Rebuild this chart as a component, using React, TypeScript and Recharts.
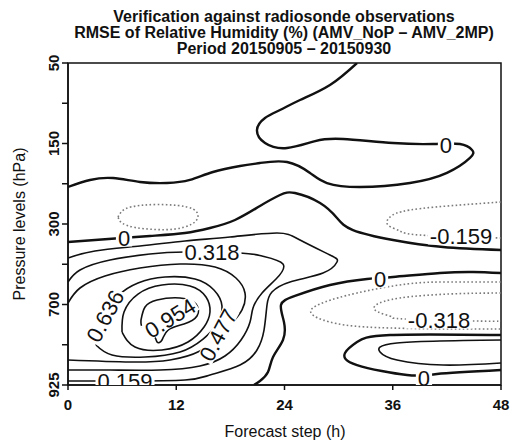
import { ComposedChart, Line, Scatter, XAxis, YAxis, ReferenceArea } from "recharts";

type Pt = [number, number];

const FONT = '"Liberation Sans", Arial, Helvetica, sans-serif';

const forecastSteps = [0, 12, 24, 36, 48];
const pressureLevels = ["50", "150", "300", "700", "925"];
const levelTicks = [0, 0.5, 1, 1.5, 2, 2.5, 3, 3.5, 4];

// each contour is a list of [forecast hour, pressure level index] pairs
const zeroUpper: Pt[] = [
  [0, 1.54], [2.44, 1.453], [4.99, 1.429], [7.98, 1.478], [10.97, 1.491], [13.52, 1.453],
  [16.07, 1.354], [19.07, 1.28], [21.28, 1.242], [24.28, 1.23], [26.83, 1.366], [28.71, 1.491],
  [32.37, 1.54], [37.91, 1.491], [42.01, 1.366], [44.56, 1.18], [44.79, 1.081], [43.45, 1.006],
  [40.46, 1.006], [36.03, 0.994], [30.49, 0.944], [27.4, 0.97], [24.28, 1.056], [21.84, 0.994],
  [20.95, 0.832], [21.84, 0.683], [23.5, 0.584], [25.72, 0.46], [29.04, 0.273], [32.04, 0],
];
const zeroMiddle: Pt[] = [
  [0, 2.224], [2.99, 2.199], [9.09, 2.149], [12.97, 2.112], [15.74, 2.05], [18.51, 1.95],
  [21.28, 1.776], [23.5, 1.64], [25.16, 1.615], [27.94, 1.739], [29.82, 1.925], [31.59, 2.075],
  [36.03, 2.199], [41.57, 2.286], [48, 2.323],
];
const zeroLower: Pt[] = [
  [48, 2.609], [44.9, 2.596], [41.24, 2.609], [36.03, 2.658], [33.15, 2.683], [29.04, 2.758],
  [25.16, 2.894], [23.61, 3.006], [23.94, 3.217], [23.83, 3.441], [22.73, 3.652], [22.17, 3.839],
  [21.28, 3.95], [20.62, 4],
];
const zeroBottom: Pt[] = [
  [48, 3.379], [35.7, 3.379], [32.04, 3.466], [30.71, 3.602], [32.04, 3.752], [37.58, 3.876],
  [40.9, 3.863], [48, 3.814],
];
const pos159Left: Pt[] = [
  [0, 2.422], [2.99, 2.335], [7.98, 2.273], [12.97, 2.211], [17.96, 2.161], [23.17, 2.112],
  [25.72, 2.199], [29.04, 2.385], [29.82, 2.472], [28.27, 2.609], [24.61, 2.72], [22.61, 2.845],
  [22.06, 3.006], [21.73, 3.317], [20.95, 3.565], [19.07, 3.752], [15.74, 3.876], [12.97, 3.938],
  [6.32, 3.95], [0, 3.95],
];
const pos159Right: Pt[] = [
  [48, 3.441], [36.47, 3.478], [34.59, 3.59], [36.47, 3.689], [41.57, 3.752], [48, 3.727],
];
const pos318: Pt[] = [
  [0, 2.72], [1.33, 2.571], [4.66, 2.447], [9.09, 2.373], [12.97, 2.348], [19.07, 2.36],
  [21.51, 2.398], [23.83, 2.497], [23.06, 2.683], [21.51, 2.857], [20.51, 3.043], [20.18, 3.217],
  [19.18, 3.441], [17.4, 3.64], [14.63, 3.764], [10.2, 3.814], [4.66, 3.814], [0, 3.814],
];
const pos477: Pt[] = [
  [0, 2.981], [1.33, 2.795], [4.1, 2.646], [7.98, 2.547], [12.42, 2.497], [16.3, 2.534],
  [18.62, 2.671], [19.62, 2.857], [19.29, 3.068], [18.07, 3.242], [16.63, 3.404], [14.63, 3.578],
  [11.31, 3.689], [6.87, 3.714], [0, 3.689],
];
const pos636: Pt[] = [
  [3.1, 3.503], [3.55, 3.317], [4.21, 3.118], [5.54, 2.894], [7.76, 2.733], [10.75, 2.658],
  [14.08, 2.683], [16.18, 2.82], [17.07, 3.019], [16.52, 3.242], [14.97, 3.429], [12.42, 3.59],
  [8.54, 3.652], [4.88, 3.627], [3.1, 3.503],
];
const pos795: Pt[] = [
  [5.99, 3.342], [6.21, 3.093], [7.76, 2.87], [10.42, 2.758], [13.52, 2.77], [15.3, 2.907],
  [15.74, 3.093], [15.08, 3.28], [13.3, 3.466], [10.42, 3.565], [7.43, 3.528], [5.99, 3.342],
];
const pos954: Pt[] = [
  [8.09, 3.193], [8.54, 3.031], [9.87, 2.944], [12.42, 2.919], [14.19, 2.994], [14.3, 3.143],
  [12.86, 3.242], [11.09, 3.317], [10.42, 3.441], [9.87, 3.466], [9.42, 3.366], [8.31, 3.292],
  [8.09, 3.193],
];
const neg159Left: Pt[] = [
  [5.54, 1.913], [6.32, 1.814], [7.98, 1.77], [9.98, 1.758], [12.19, 1.77], [13.86, 1.814],
  [14.41, 1.901], [13.75, 2.0], [11.86, 2.062], [9.64, 2.068], [7.43, 2.043], [5.99, 1.988],
  [5.54, 1.913],
];
const neg159Top: Pt[] = [
  [48, 1.727], [43.45, 1.764], [37.91, 1.826], [35.7, 1.913], [35.47, 2.012], [36.8, 2.087],
  [39.02, 2.137], [48, 2.174],
];
const neg159Mid: Pt[] = [
  [48, 2.72], [42.35, 2.72], [37.58, 2.745], [32.04, 2.857], [28.49, 2.969], [26.94, 3.068],
  [27.71, 3.168], [30.71, 3.255], [35.7, 3.292], [42.35, 3.304], [48, 3.304],
];
const neg318Mid: Pt[] = [
  [48, 2.857], [42.35, 2.869], [36.8, 2.919], [34.14, 3.006], [34.37, 3.093], [35.92, 3.155],
  [37.36, 3.18], [45.12, 3.205], [48, 3.205],
];

const contours = [
  { id: "zeroUpper", level: 0, points: zeroUpper },
  { id: "zeroMiddle", level: 0, points: zeroMiddle },
  { id: "zeroLower", level: 0, points: zeroLower },
  { id: "zeroBottom", level: 0, points: zeroBottom },
  { id: "pos159Left", level: 0.159, points: pos159Left },
  { id: "pos159Right", level: 0.159, points: pos159Right },
  { id: "pos318", level: 0.318, points: pos318 },
  { id: "pos477", level: 0.477, points: pos477 },
  { id: "pos636", level: 0.636, points: pos636 },
  { id: "pos795", level: 0.795, points: pos795 },
  { id: "pos954", level: 0.954, points: pos954 },
  { id: "neg159Left", level: -0.159, points: neg159Left },
  { id: "neg159Top", level: -0.159, points: neg159Top },
  { id: "neg159Mid", level: -0.159, points: neg159Mid },
  { id: "neg318Mid", level: -0.318, points: neg318Mid },
];

// inline contour labels: anchor in [hour, level index], text rotation in degrees
const contourLabels = [
  { x: 41.9, y: 1.019, level: 0, angle: 0 },
  { x: 6.21, y: 2.174, level: 0, angle: 0 },
  { x: 34.59, y: 2.683, level: 0, angle: 0 },
  { x: 39.46, y: 3.913, level: 0, angle: 0 },
  { x: 6.32, y: 3.95, level: 0.159, angle: 0 },
  { x: 15.96, y: 2.354, level: 0.318, angle: 0 },
  { x: 16.63, y: 3.379, level: 0.477, angle: -62 },
  { x: 4.1, y: 3.143, level: 0.636, angle: -62 },
  { x: 11.31, y: 3.168, level: 0.954, angle: -32 },
  { x: 43.57, y: 2.149, level: -0.159, angle: 0 },
  { x: 41.13, y: 3.193, level: -0.318, angle: 0 },
];

const formatLevel = (level: number) => (level === 0 ? "0" : level.toFixed(3));

const LABEL_SIZE = 22;
const charWidth: Record<string, number> = { ".": 0.278, "-": 0.333 };
const textWidth = (s: string, size: number) =>
  [...s].reduce((w, c) => w + (charWidth[c] ?? 0.556), 0) * size;

function contourStyle(level: number) {
  if (level === 0) return { stroke: "#111", strokeWidth: 2.4, strokeDasharray: undefined };
  if (level > 0) return { stroke: "#111", strokeWidth: 1.6, strokeDasharray: undefined };
  return { stroke: "#7a7a7a", strokeWidth: 1.6, strokeDasharray: "1.6 2.4" };
}

function ContourLabel(props: any) {
  const { cx, cy, payload } = props;
  if (cx == null || cy == null) return null;
  const text = formatLevel(payload.level);
  const w = textWidth(text, LABEL_SIZE) + 4;
  const h = 17;
  return (
    <g transform={`translate(${cx},${cy}) rotate(${payload.angle})`}>
      <rect x={-w / 2} y={-h / 2} width={w} height={h} fill="#fff" />
      <text x={0} y={0} dy="0.36em" textAnchor="middle" fontSize={LABEL_SIZE} fontFamily={FONT} fill="#111">
        {text}
      </text>
    </g>
  );
}

function PressureTick(props: any) {
  const { x, y, payload } = props;
  if (payload.value % 1 !== 0) return <g />;
  return (
    <text
      transform={`translate(${x - 1},${y}) rotate(-90)`}
      textAnchor="middle"
      fontSize={15}
      fontWeight="bold"
      fontFamily={FONT}
      fill="#111"
    >
      {pressureLevels[payload.value]}
    </text>
  );
}

export default function App() {
  return (
    <div style={{ position: "absolute", left: 0, top: 0, width: 513, height: 446, background: "#fff" }}>
      <ComposedChart width={513} height={446} margin={{ top: 63, right: 12, bottom: 31, left: 8 }}>
        <XAxis
          type="number"
          dataKey="x"
          domain={[0, 48]}
          ticks={forecastSteps}
          allowDataOverflow
          height={30}
          tickSize={5}
          tickMargin={9}
          axisLine={{ stroke: "#111", strokeWidth: 1.5 }}
          tickLine={{ stroke: "#111", strokeWidth: 1.5 }}
          tick={{ fontSize: 15, fontWeight: "bold", fill: "#111", fontFamily: FONT }}
        />
        <YAxis
          type="number"
          domain={[0, 4]}
          ticks={levelTicks}
          reversed
          allowDataOverflow
          width={60}
          tickSize={6}
          tickMargin={2}
          axisLine={{ stroke: "#111", strokeWidth: 1.5 }}
          tickLine={{ stroke: "#111", strokeWidth: 1.5 }}
          tick={<PressureTick />}
        />
        <ReferenceArea x1={0} x2={48} y1={0} y2={4} fill="none" stroke="#111" strokeWidth={1.5} ifOverflow="visible" />
        {contours.map((c) => {
          const style = contourStyle(c.level);
          return (
            <Line
              key={c.id}
              data={c.points.map(([x, y]) => ({ x, y }))}
              dataKey="y"
              type="natural"
              dot={false}
              activeDot={false}
              isAnimationActive={false}
              {...style}
            />
          );
        })}
        <Scatter data={contourLabels} dataKey="y" shape={ContourLabel} isAnimationActive={false} />
      </ComposedChart>
      <svg width={513} height={446} style={{ position: "absolute", left: 0, top: 0, pointerEvents: "none" }}>
        <g fontFamily={FONT} fill="#111" textAnchor="middle">
          <text x={284} y={22} fontSize={16} fontWeight="bold">Verification against radiosonde observations</text>
          <text x={284} y={38} fontSize={16} fontWeight="bold">RMSE of Relative Humidity (%) (AMV_NoP – AMV_2MP)</text>
          <text x={284} y={54} fontSize={16} fontWeight="bold">Period 20150905 – 20150930</text>
          <text x={285} y={437} fontSize={16}>Forecast step (h)</text>
          <text transform="translate(25,224) rotate(-90)" fontSize={16}>Pressure levels (hPa)</text>
        </g>
      </svg>
    </div>
  );
}
